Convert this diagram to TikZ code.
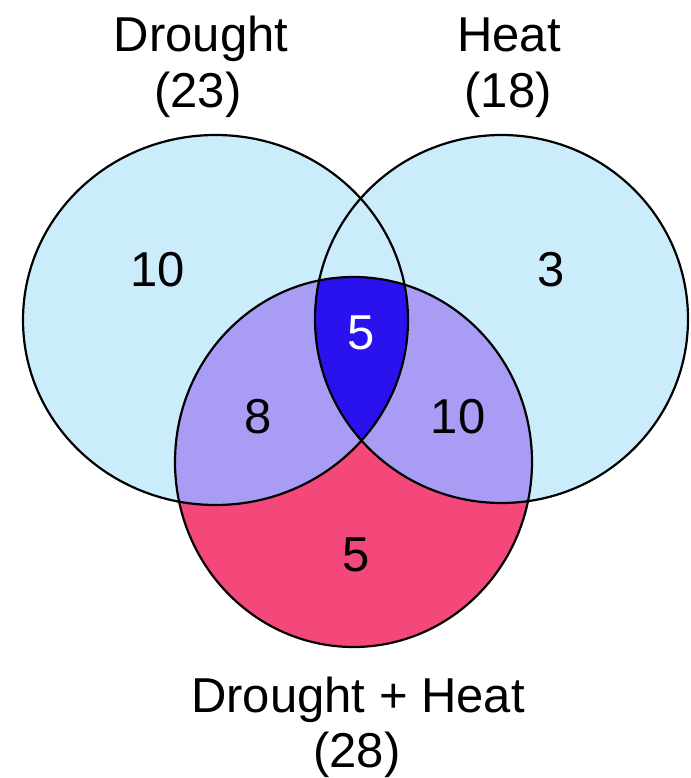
\documentclass[tikz,border=0pt]{standalone}
\usepackage{fontspec}
\setmainfont{Liberation Sans}
\definecolor{lblue}{HTML}{CBEDFB}
\definecolor{purp}{HTML}{A99CF5}
\definecolor{dblue}{HTML}{2A12EE}
\definecolor{pinkc}{HTML}{F4487A}
\def\pathDr{(215.5,320) ellipse [x radius=192.5pt, y radius=185pt]}
\def\pathHe{(501.5,319) ellipse [x radius=186.5pt, y radius=184pt]}
\def\pathBo{(353.5,462) ellipse [x radius=178.5pt, y radius=185pt]}
\begin{document}
\begin{tikzpicture}[x=1pt,y=-1pt,
  outline/.style={draw=black,line width=2.2pt},
  lab/.style={font=\fontsize{49}{56}\selectfont,inner sep=0pt,anchor=base},
  num/.style={font=\fontsize{49}{56}\selectfont,inner sep=0pt}]
\useasboundingbox (0,0) rectangle (690,778);
\fill[white] (0,0) rectangle (690,778);
% regions
\fill[lblue] \pathDr;
\fill[lblue] \pathHe;
\fill[pinkc] \pathBo;
\begin{scope}
  \clip \pathBo;
  \fill[purp] \pathDr;
  \fill[purp] \pathHe;
\end{scope}
\begin{scope}
  \clip \pathBo;
  \clip \pathDr;
  \fill[dblue] \pathHe;
\end{scope}
% outlines
\draw[outline] \pathDr;
\draw[outline] \pathHe;
\draw[outline] \pathBo;
% labels
\node[lab] (dlab) at (201,52) {Drought};
\node[lab] (dnum) at (198,108) {(23)};
\node[lab] (hlab) at (509,52) {Heat};
\node[lab] (hnum) at (508,108) {(18)};
\node[lab] (blab) at (358,712) {Drought + Heat};
\node[lab] (bnum) at (357,767) {(28)};
% counts
\node[num] (n10a) at (158,270) {10};
\node[num] (n3) at (551,270) {3};
\node[num,text=white] (n5a) at (361,333) {5};
\node[num] (n8) at (258,417) {8};
\node[num] (n10b) at (458,417) {10};
\node[num] (n5b) at (356,555) {5};
\end{tikzpicture}
\end{document}
